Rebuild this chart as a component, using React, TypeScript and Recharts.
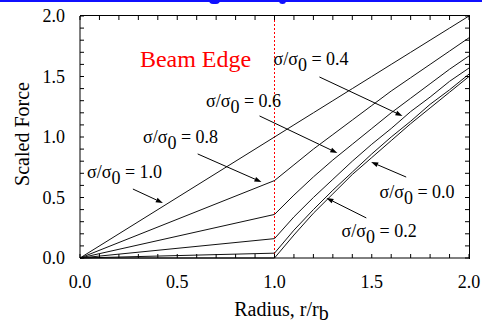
import { LineChart, Line, XAxis, YAxis, ReferenceLine, ReferenceDot } from 'recharts'

const RADIUS = [0, 1, 1.1, 1.2, 1.3, 1.4, 1.5, 1.6, 1.7, 1.8, 1.9, 2.0]
const FORCE_S10 = [0, 1.0, 1.1, 1.2, 1.3, 1.4, 1.5, 1.6, 1.7, 1.8, 1.9, 2.0]
const FORCE_S08 = [0, 0.64, 0.77, 0.9, 1.02, 1.14, 1.26, 1.38, 1.49, 1.6, 1.71, 1.82]
const FORCE_S06 = [0, 0.36, 0.52, 0.67, 0.81, 0.94, 1.07, 1.2, 1.32, 1.44, 1.56, 1.67]
const FORCE_S04 = [0, 0.16, 0.34, 0.5, 0.65, 0.8, 0.94, 1.07, 1.21, 1.33, 1.46, 1.57]
const FORCE_S02 = [0, 0.04, 0.23, 0.4, 0.56, 0.71, 0.86, 1.0, 1.13, 1.27, 1.39, 1.52]
const FORCE_S00 = [0, 0, 0.19, 0.37, 0.53, 0.69, 0.83, 0.97, 1.11, 1.24, 1.37, 1.5]

const SERIES = [
  { key: 's10', values: FORCE_S10 },
  { key: 's08', values: FORCE_S08 },
  { key: 's06', values: FORCE_S06 },
  { key: 's04', values: FORCE_S04 },
  { key: 's02', values: FORCE_S02 },
  { key: 's00', values: FORCE_S00 },
]

const X_TICKS = [0, 0.1, 0.2, 0.3, 0.4, 0.5, 0.6, 0.7, 0.8, 0.9, 1.0, 1.1, 1.2, 1.3, 1.4, 1.5, 1.6, 1.7, 1.8, 1.9, 2.0]
const Y_TICKS = X_TICKS
const MAJOR_TICKS = [0, 0.5, 1.0, 1.5, 2.0]

// label anchor (left edge, baseline) and arrows, in data units
const CURVE_LABELS = [
  { text: '1.0', r: 0.036, f: 0.661 },
  { text: '0.8', r: 0.324, f: 0.95 },
  { text: '0.6', r: 0.648, f: 1.248 },
  { text: '0.4', r: 0.995, f: 1.595 },
  { text: '0.0', r: 1.54, f: 0.496 },
  { text: '0.2', r: 1.345, f: 0.174 },
]

const ARROWS = [
  { from: [0.272, 0.57], to: [0.426, 0.455] },
  { from: [0.605, 0.86], to: [0.933, 0.628] },
  { from: [0.923, 1.174], to: [1.323, 0.868] },
  { from: [1.231, 1.496], to: [1.658, 1.174] },
  { from: [1.677, 0.669], to: [1.497, 0.793] },
  { from: [1.472, 0.331], to: [1.267, 0.496] },
]

const W = 482
const H = 326
const MARGIN = { top: 16, right: 13, bottom: 28, left: 0 }
const Y_AXIS_W = 80
const X_AXIS_H = 40
// plot box, derived from the layout above
const PLOT = {
  left: MARGIN.left + Y_AXIS_W,
  right: W - MARGIN.right,
  top: MARGIN.top,
  bottom: H - MARGIN.bottom - X_AXIS_H,
}
const TICK = 4

const chartData = RADIUS.map((r, i) => {
  const row: Record<string, number> = { r }
  SERIES.forEach((s) => {
    row[s.key] = s.values[i]
  })
  return row
})

const FONT = '"Liberation Serif", "DejaVu Serif", serif'

const isMajor = (v: number) => MAJOR_TICKS.some((m) => Math.abs(m - v) < 1e-6)

// bottom axis tick: inward ticks on bottom and top edges, label for majors
const XTick = (p: any) => {
  const x = p.x
  const v = p.payload.value
  return (
    <g>
      <line x1={x} y1={PLOT.bottom} x2={x} y2={PLOT.bottom - TICK} stroke="#000" strokeWidth={1} />
      <line x1={x} y1={PLOT.top} x2={x} y2={PLOT.top + TICK} stroke="#000" strokeWidth={1} />
      {isMajor(v) && (
        <text x={x} y={PLOT.bottom + 30} textAnchor="middle" fontFamily={FONT} fontSize={18} fill="#000">
          {v.toFixed(1)}
        </text>
      )}
    </g>
  )
}

// left axis tick: inward ticks on left and right edges, label for majors
const YTick = (p: any) => {
  const y = p.y
  const v = p.payload.value
  return (
    <g>
      <line x1={PLOT.left} y1={y} x2={PLOT.left + TICK} y2={y} stroke="#000" strokeWidth={1} />
      <line x1={PLOT.right} y1={y} x2={PLOT.right - TICK} y2={y} stroke="#000" strokeWidth={1} />
      {isMajor(v) && (
        <text x={PLOT.left - 15} y={y + 6} textAnchor="end" fontFamily={FONT} fontSize={18} fill="#000">
          {v.toFixed(1)}
        </text>
      )}
    </g>
  )
}

const ArrowShape = (p: any) => {
  const { x1, y1, x2, y2 } = p
  const ang = Math.atan2(y2 - y1, x2 - x1)
  const len = 7
  const w = 2.5
  const bx = x2 - len * Math.cos(ang)
  const by = y2 - len * Math.sin(ang)
  const pts = [
    `${x2},${y2}`,
    `${bx - w * Math.sin(ang)},${by + w * Math.cos(ang)}`,
    `${bx + w * Math.sin(ang)},${by - w * Math.cos(ang)}`,
  ].join(' ')
  return (
    <g>
      <line x1={x1} y1={y1} x2={bx} y2={by} stroke="#000" strokeWidth={1} />
      <polygon points={pts} fill="#000" />
    </g>
  )
}

const SigmaLabel = ({ x, y, value }: { x: number; y: number; value: string }) => (
  <text x={x} y={y} fontFamily={FONT} fontSize={18} fill="#000">
    σ/σ
    <tspan dy={6}>0</tspan>
    <tspan dy={-6}> = {value}</tspan>
  </text>
)

export default function App() {
  return (
    <div style={{ position: 'relative', width: W, height: H, background: '#fff' }}>
      <style>{'body{margin:0}'}</style>
      <div style={{ position: 'absolute', left: 0, top: 0, width: W, height: 2, background: '#1010ff' }} />
      <div style={{ position: 'absolute', left: 209, top: 0, width: 11, height: 4, borderRadius: '0 0 6px 6px', background: '#1010ff' }} />
      <div style={{ position: 'absolute', left: 279, top: 0, width: 7, height: 4, borderRadius: '0 0 4px 4px', background: '#1010ff' }} />
      <LineChart width={W} height={H} data={chartData} margin={MARGIN}>
        <XAxis
          dataKey="r"
          type="number"
          domain={[0, 2]}
          ticks={X_TICKS}
          interval={0}
          height={X_AXIS_H}
          tickSize={0}
          tickLine={false}
          stroke="#000"
          tick={XTick}
          label={{
            content: (p: any) => {
              const vb = p.viewBox
              return (
                <text
                  x={vb.x + vb.width / 2 + 7}
                  y={vb.y + 58}
                  textAnchor="middle"
                  fontFamily={FONT}
                  fontSize={20}
                  fill="#000"
                >
                  Radius, r/r<tspan dy={4}>b</tspan>
                </text>
              )
            },
          }}
        />
        <YAxis
          type="number"
          domain={[0, 2]}
          ticks={Y_TICKS}
          interval={0}
          width={Y_AXIS_W}
          tickSize={0}
          tickLine={false}
          stroke="#000"
          tick={YTick}
          label={{
            content: (p: any) => {
              const vb = p.viewBox
              const cx = vb.x + 22
              const cy = 134
              return (
                <text
                  x={cx}
                  y={cy}
                  transform={`rotate(-90 ${cx} ${cy})`}
                  textAnchor="middle"
                  dominantBaseline="central"
                  fontFamily={FONT}
                  fontSize={20}
                  fill="#000"
                >
                  Scaled Force
                </text>
              )
            },
          }}
        />
        <ReferenceLine x={1} stroke="#ff0000" strokeDasharray="2 2" strokeWidth={1} />
        {SERIES.map((s) => (
          <Line
            key={s.key}
            type="linear"
            dataKey={s.key}
            stroke="#111"
            strokeWidth={1}
            dot={false}
            activeDot={false}
            isAnimationActive={false}
          />
        ))}
        {ARROWS.map((a, i) => (
          <ReferenceLine
            key={`arrow-${i}`}
            segment={[
              { x: a.from[0], y: a.from[1] },
              { x: a.to[0], y: a.to[1] },
            ]}
            shape={ArrowShape}
          />
        ))}
        {CURVE_LABELS.map((l) => (
          <ReferenceDot
            key={`lbl-${l.text}`}
            x={l.r}
            y={l.f}
            r={0}
            shape={(p: any) => <SigmaLabel x={p.cx} y={p.cy} value={l.text} />}
          />
        ))}
        <ReferenceDot
          x={0.308}
          y={1.58}
          r={0}
          shape={(p: any) => (
            <text x={p.cx} y={p.cy} fontFamily={FONT} fontSize={24} fill="#ff0000">
              Beam Edge
            </text>
          )}
        />
      </LineChart>
      {/* top and right edges of the plot box, laid over the chart */}
      <div
        style={{
          position: 'absolute',
          zIndex: 2,
          left: PLOT.left,
          top: PLOT.top - 1,
          width: PLOT.right - PLOT.left,
          height: PLOT.bottom - PLOT.top + 1,
          borderTop: '1px solid #000',
          borderRight: '1px solid #000',
          pointerEvents: 'none',
        }}
      />
    </div>
  )
}
